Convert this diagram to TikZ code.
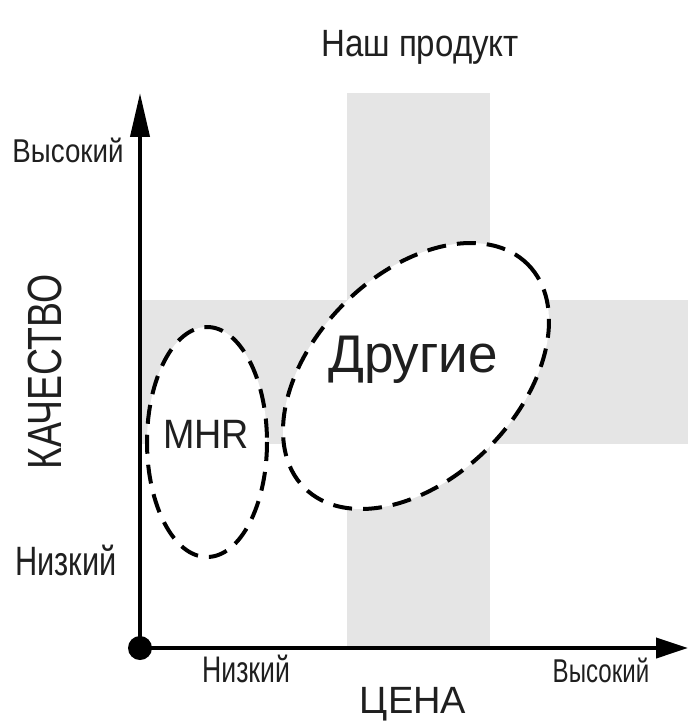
\documentclass[tikz,border=0pt]{standalone}
\usepackage{fontspec}
\setmainfont{Liberation Sans}
\usetikzlibrary{arrows.meta}
\newcommand{\fs}[1]{\fontsize{#1}{#1}\selectfont}
\tikzset{
  band/.style={fill=black!10, draw=none},
  group/.style={draw=black, fill=white, line width=4pt, dash pattern=on 19pt off 11pt},
  axis/.style={line width=4pt},
  lbl/.style={anchor=base, inner sep=0pt, text=black!88},
}
\begin{document}
\begin{tikzpicture}[x=1pt,y=-1pt]
\useasboundingbox (0,0) rectangle (688,722);
% bands
\fill[band] (347,93) rectangle (490,647);
\fill[band] (142,300) rectangle (688,444);
% ellipses
\filldraw[group] (207,442) ellipse [x radius=60, y radius=115];
\filldraw[group] (416,376) ellipse [x radius=158, y radius=102, rotate=45];
% axes
\coordinate (O) at (140,648);
\coordinate (Ytip) at (140,93);
\coordinate (Xtip) at (688,648);
\draw[axis, -{Triangle[length=44pt,width=19pt]}] (O) -- (Ytip);
\draw[axis, -{Triangle[length=32pt,width=20pt]}] (O) -- (Xtip);
\fill (O) circle (12);
% labels
\node[lbl] (title) at (420,57) {\fs{38}\scalebox{0.87}[1]{Наш продукт}};
\node[lbl] (yhi) at (68,163) {\fs{33}\scalebox{0.84}[1]{Высокий}};
\node[lbl] (ylo) at (66,575) {\fs{41}\scalebox{0.75}[1]{Низкий}};
\node[lbl, rotate=90, anchor=center] (ylab) at (45,372) {\fs{48}\scalebox{0.78}[1]{КАЧЕСТВО}};
\node[lbl] (xlo) at (246,682) {\fs{37}\scalebox{0.72}[1]{Низкий}};
\node[lbl] (xhi) at (601,682) {\fs{33}\scalebox{0.73}[1]{Высокий}};
\node[lbl] (xlab) at (413,713) {\fs{38}ЦЕНА};
\node[lbl] (mhr) at (206,448) {\fs{41}\scalebox{0.92}[1]{MHR}};
\node[lbl] (oth) at (413,372) {\fs{53}Другие};
\end{tikzpicture}
\end{document}
